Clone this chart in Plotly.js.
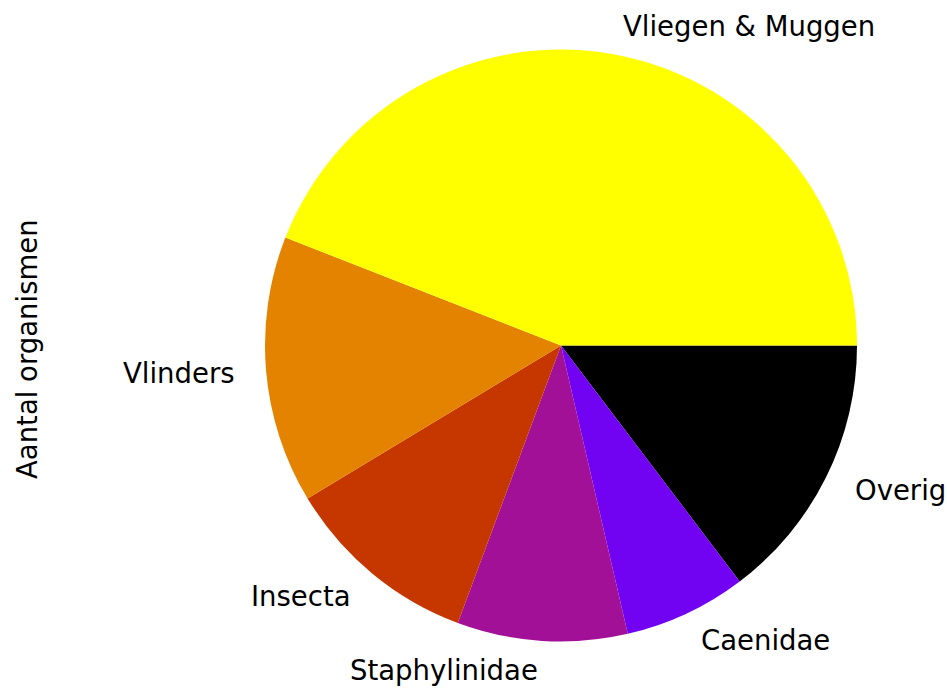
<!DOCTYPE html>
<html>
<head>
<meta charset="utf-8">
<script src="https://cdn.plot.ly/plotly-3.0.1.min.js"></script>
<style>html,body{margin:0;padding:0;background:#fff;}#chart{width:947px;height:692px;}</style>
</head>
<body>
<div id="chart"></div>
<script>
// Data
var categories = ["Vliegen & Muggen", "Vlinders", "Insecta", "Staphylinidae", "Caenidae", "Overig"];
var counts = [441, 146, 107, 93, 67, 147];
var sliceColors = ["#ffff00", "#e48300", "#c63700", "#a11096", "#7202f2", "#000000"];
var yLabel = "Aantal organismen";

// Layout geometry
var W = 947, H = 692;
var cx = 561, cy = 345.5, R = 296;
var fontSpec = {family: "DejaVu Sans", size: 27.5, color: "#000000"};

var total = counts.reduce(function (a, b) { return a + b; }, 0);
var annotations = [];
var cum = 0;
for (var i = 0; i < counts.length; i++) {
  var mid = (cum + counts[i] / 2) / total * 2 * Math.PI;
  cum += counts[i];
  var px = cx + 1.1 * R * Math.cos(mid);
  var py = cy - 1.1 * R * Math.sin(mid);
  annotations.push({
    text: categories[i], showarrow: false,
    xref: "paper", yref: "paper",
    x: px / W, y: 1 - py / H,
    xanchor: Math.cos(mid) > 0 ? "left" : "right",
    yanchor: "middle",
    font: fontSpec
  });
}
annotations.push({
  text: yLabel, showarrow: false, textangle: -90,
  xref: "paper", yref: "paper",
  x: 27 / W, y: 1 - 349 / H,
  xanchor: "center", yanchor: "middle",
  font: fontSpec
});

// Slices run counterclockwise from 3 o'clock (matplotlib style):
// equivalently, reversed order drawn clockwise from 3 o'clock.
var trace = {
  type: "pie",
  labels: categories.slice().reverse(),
  values: counts.slice().reverse(),
  sort: false,
  direction: "clockwise",
  rotation: 90,
  textinfo: "none",
  hoverinfo: "label+value",
  marker: {colors: sliceColors.slice().reverse(), line: {width: 0}},
  domain: {x: [(cx - R) / W, (cx + R) / W], y: [(H - cy - R) / H, (H - cy + R) / H]},
  showlegend: false
};

var layout = {
  width: W, height: H,
  margin: {l: 0, r: 0, t: 0, b: 0},
  paper_bgcolor: "#ffffff",
  showlegend: false,
  annotations: annotations
};

Plotly.newPlot("chart", [trace], layout, {displayModeBar: false, staticPlot: true});
</script>
</body>
</html>
